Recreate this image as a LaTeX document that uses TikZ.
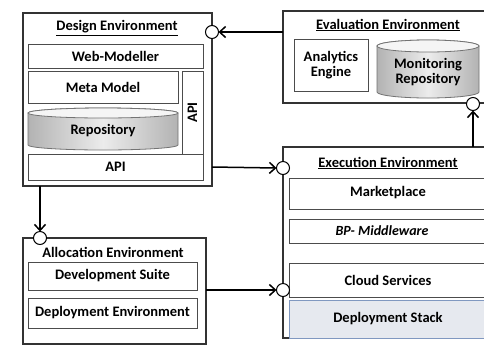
\documentclass[tikz,border=0pt]{standalone}
\usepackage{fontspec}
\setmainfont{Carlito}
\usetikzlibrary{arrows.meta,shadows}

\definecolor{stackfill}{HTML}{E6E9EF}
\definecolor{stackline}{HTML}{8098C0}

\begin{document}
\begin{tikzpicture}[
  x=1pt, y=-1pt,
  every node/.style={font=\bfseries\fontsize{14.5}{15.5}\selectfont, inner sep=0pt, outer sep=0pt},
  env/.style={draw=black!80, line width=1.3pt, fill=white, anchor=north west,
    drop shadow={shadow xshift=1pt, shadow yshift=-1pt, opacity=.6}},
  part/.style={draw=black!70, line width=0.9pt, fill=white, anchor=north west, align=center},
  port/.style={draw=black, line width=1pt, fill=white, circle, minimum size=13pt},
  link/.style={line width=1.5pt, -{Straight Barb[length=6pt, width=11pt, line width=1.5pt]}},
  repo/.style={draw=black!55, line width=0.8pt, left color=gray!60, right color=gray!60, middle color=gray!15}
]
\useasboundingbox (0,0) rectangle (484,349);

% design environment
\node[env, minimum width=189pt, minimum height=173pt] (design) at (23,13) {};
\node (designt) at (117,28) {\underline{Design Environment}};
\node[part, minimum width=175pt, minimum height=24pt] (webmod) at (28,44) {Web-Modeller};
\node[part, minimum width=150pt, minimum height=32pt] (meta) at (28,71) {Meta Model};
\node[part, minimum width=21pt, minimum height=83pt] (vapi) at (182,71) {\rotatebox{90}{API}};
\node[part, minimum width=175pt, minimum height=26pt] (dapi) at (28,154) {API};
\path[repo] (28,113) -- (28,145) arc[start angle=180, end angle=360, x radius=75pt, y radius=5pt]
  -- (178,113) arc[start angle=0, end angle=180, x radius=75pt, y radius=5pt] -- cycle;
\draw[draw=black!55, line width=0.8pt, fill=gray!8] (103,113) ellipse [x radius=75pt, y radius=5pt];
\node (store) at (103,131) {Repository};

% evaluation environment
\node[env, minimum width=210pt, minimum height=92pt] (eval) at (283,11) {};
\node (evalt) at (388,25) {\underline{Evaluation Environment}};
\node[part, minimum width=74pt, minimum height=52pt] (analytics) at (294,39) {Analytics\\Engine};
\path[repo] (377,46) -- (377,92) arc[start angle=180, end angle=360, x radius=51pt, y radius=6pt]
  -- (479,46) arc[start angle=0, end angle=180, x radius=51pt, y radius=6pt] -- cycle;
\draw[draw=black!55, line width=0.8pt, fill=gray!8] (428,46) ellipse [x radius=51pt, y radius=6pt];
\node[align=center] (monitor) at (428,72) {Monitoring\\Repository};

% execution environment
\node[env, minimum width=210pt, minimum height=191pt] (exec) at (283,147) {};
\node (exect) at (388,163) {\underline{Execution Environment}};
\node[part, minimum width=200pt, minimum height=31pt] (market) at (289,178) {};
\node (markett) at (388,193) {Marketplace};
\node[part, minimum width=200pt, minimum height=24pt] (bpm) at (289,219) {};
\node[font=\bfseries\itshape\fontsize{14}{15}\selectfont] (bpmt) at (382,231) {BP- Middleware};
\node[part, minimum width=200pt, minimum height=34pt] (cloud) at (289,263) {};
\node (cloudt) at (388,280) {Cloud Services};
\node[part, draw=stackline, fill=stackfill, minimum width=200pt, minimum height=38pt] (stack) at (289,300) {};
\node (stackt) at (388,319) {Deployment Stack};

% allocation environment
\node[env, minimum width=183pt, minimum height=106pt] (alloc) at (23,238) {};
\node (alloct) at (113,252) {Allocation Environment};
\node[part, minimum width=169pt, minimum height=28pt] (devsuite) at (28,262) {Development Suite};
\node[part, minimum width=169pt, minimum height=30pt] (deployenv) at (28,298) {Deployment Environment};

% ports
\node[port] (pdesign) at (212,32) {};
\node[port] (palloc) at (40,238) {};
\node[port] (peval) at (473,104) {};
\node[port] (pexec1) at (283,168) {};
\node[port] (pexec2) at (283,290) {};

% connectors
\draw[link] (eval.west |- pdesign) -- (pdesign.east);
\draw[link] (palloc |- design.south) -- (palloc.north);
\draw[link] (dapi.center -| design.east) -- (pexec1.west);
\draw[link] (peval |- exec.north) -- (peval.south);
\draw[link] (alloc.east |- pexec2) -- (pexec2.west);
\end{tikzpicture}
\end{document}
